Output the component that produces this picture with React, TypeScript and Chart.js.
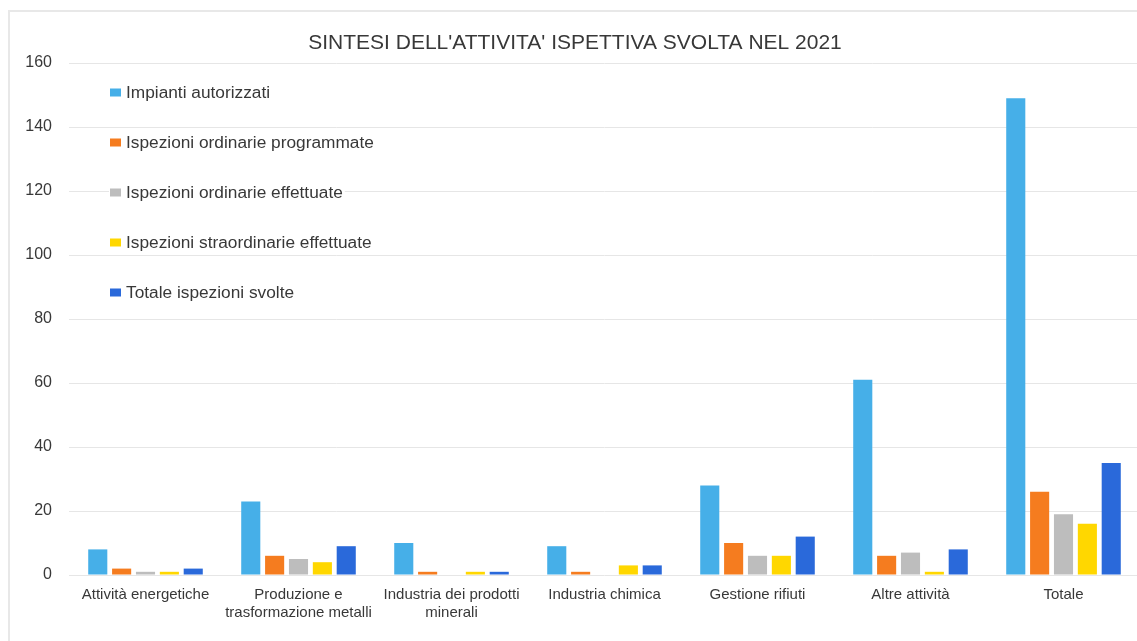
import React, { useEffect, useRef } from "react";
import { Chart, registerables } from "chart.js";

Chart.register(...registerables);

const categories: (string | string[])[] = [
  "Attività energetiche",
  ["Produzione e", "trasformazione metalli"],
  ["Industria dei prodotti", "minerali"],
  "Industria chimica",
  "Gestione rifiuti",
  "Altre attività",
  "Totale",
];

const seriesNames = [
  "Impianti autorizzati",
  "Ispezioni ordinarie programmate",
  "Ispezioni ordinarie effettuate",
  "Ispezioni straordinarie effettuate",
  "Totale ispezioni svolte",
];

const impiantiAutorizzati = [8, 23, 10, 9, 28, 61, 149];
const ispezioniOrdinarieProgrammate = [2, 6, 1, 1, 10, 6, 26];
const ispezioniOrdinarieEffettuate = [1, 5, 0, 0, 6, 7, 19];
const ispezioniStraordinarieEffettuate = [1, 4, 1, 3, 6, 1, 16];
const totaleIspezioniSvolte = [2, 9, 1, 3, 12, 8, 35];

const seriesColors = ["#46AFE8", "#F57C1F", "#BDBDBD", "#FFD700", "#2A69DA"];

const yMin = 0;
const yMax = 160;
const yStep = 20;

const chartTitle = "SINTESI DELL'ATTIVITA' ISPETTIVA SVOLTA NEL 2021";

const FONT = "'Liberation Sans', Arial, sans-serif";
const TEXT = "#383838";

const insideLegend = {
  id: "insideLegend",
  afterDatasetsDraw(chart: any) {
    const { ctx, chartArea } = chart;
    ctx.save();
    ctx.font = `17.3px ${FONT}`;
    ctx.textBaseline = "middle";
    ctx.textAlign = "left";
    chart.data.datasets.forEach((ds: any, i: number) => {
      const y = chartArea.top + 29.5 + i * 50;
      const bx = chartArea.left + 41;
      const tx = chartArea.left + 57;
      const w = ctx.measureText(ds.label).width;
      ctx.fillStyle = "#ffffff";
      ctx.fillRect(bx - 1, y - 9, tx - bx + w + 3, 18);
      ctx.fillStyle = ds.backgroundColor;
      ctx.fillRect(bx, y - 4, 11, 8);
      ctx.fillStyle = TEXT;
      ctx.fillText(ds.label, tx, y + 1);
    });
    ctx.restore();
  },
};

export default function App() {
  const ref = useRef<HTMLCanvasElement | null>(null);

  useEffect(() => {
    if (!ref.current) return;
    const seriesData = [
      impiantiAutorizzati,
      ispezioniOrdinarieProgrammate,
      ispezioniOrdinarieEffettuate,
      ispezioniStraordinarieEffettuate,
      totaleIspezioniSvolte,
    ];
    const chart = new Chart(ref.current, {
      type: "bar",
      data: {
        labels: categories,
        datasets: seriesData.map((d, i) => ({
          label: seriesNames[i],
          data: d,
          backgroundColor: seriesColors[i],
          borderWidth: 0,
          categoryPercentage: 0.78,
          barPercentage: 0.8,
        })),
      },
      options: {
        responsive: false,
        animation: false,
        layout: { padding: { left: 0, right: 10, top: 0, bottom: 0 } },
        plugins: {
          legend: { display: false },
          tooltip: { enabled: false },
          title: {
            display: true,
            text: chartTitle,
            color: TEXT,
            font: { family: FONT, size: 21, weight: "normal" },
            padding: { top: 18.4, bottom: 7.4 },
          },
        },
        scales: {
          x: {
            grid: { display: false, drawTicks: false },
            border: { display: false },
            ticks: {
              color: TEXT,
              font: { family: FONT, size: 15 },
              padding: 11,
              maxRotation: 0,
              autoSkip: false,
            },
            afterFit: (scale: any) => {
              scale.height = 77;
            },
          },
          y: {
            min: yMin,
            max: yMax,
            grid: { color: "#E6E6E6", drawTicks: false, lineWidth: 1 },
            border: { display: false },
            ticks: {
              stepSize: yStep,
              color: TEXT,
              font: { family: FONT, size: 16 },
              padding: 17,
            },
            afterFit: (scale: any) => {
              scale.width = 59;
            },
          },
        },
      },
      plugins: [insideLegend],
    });
    return () => chart.destroy();
  }, []);

  return (
    <div
      style={{
        position: "fixed",
        left: 8,
        top: 8,
        right: 0,
        bottom: 0,
        overflow: "hidden",
        background: "#fff",
      }}
    >
      <div
        style={{
          marginTop: 2,
          borderLeft: "2px solid #E8E8E8",
          borderTop: "2px solid #E8E8E8",
          width: 1160,
          height: 660,
          boxSizing: "border-box",
        }}
      >
        <canvas ref={ref} width={1140} height={640} style={{ display: "block" }} />
      </div>
    </div>
  );
}
